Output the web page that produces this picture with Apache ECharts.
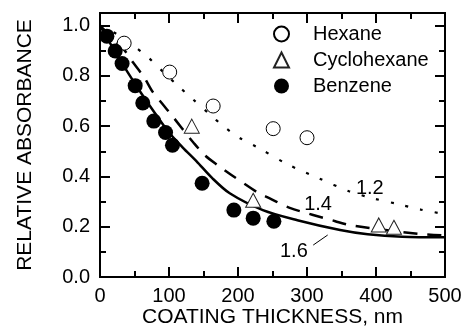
<!DOCTYPE html>
<html>
<head>
<meta charset="utf-8">
<script src="https://cdn.jsdelivr.net/npm/echarts@6/dist/echarts.min.js"></script>
<style>
html, body { margin: 0; padding: 0; background: #fff; }
#chart { width: 463px; height: 327px; }
</style>
</head>
<body>
<div id="chart"></div>
<script>
// measured points [thickness nm, relative absorbance]
const hexane = [[35, 0.93], [101, 0.815], [164, 0.68], [251, 0.59], [300, 0.554]];
const cyclohexane = [[133, 0.60], [222, 0.305], [404, 0.207], [426, 0.198]];
const benzene = [[10, 0.958], [22, 0.899], [32, 0.849], [51, 0.761], [62, 0.692], [78, 0.62],
    [95, 0.575], [105, 0.524], [148, 0.373], [194, 0.266], [222, 0.234], [252, 0.222]];

// model curves
const curve12 = [[0, 1.0], [25, 0.965], [46, 0.925], [70, 0.873], [91, 0.817], [114, 0.758],
    [135, 0.706], [159, 0.647], [181, 0.595], [203, 0.552], [228, 0.516], [272, 0.448],
    [317, 0.393], [361, 0.341], [397, 0.312], [432, 0.29], [465, 0.268], [500, 0.25]];
const curve14 = [[0, 1.0], [18, 0.95], [36, 0.90], [48, 0.853], [64, 0.794], [75, 0.742],
    [90, 0.69], [104, 0.643], [119, 0.591], [135, 0.536], [152, 0.484], [171, 0.444],
    [191, 0.405], [228, 0.337], [246, 0.313], [274, 0.276], [341, 0.222], [359, 0.208],
    [388, 0.196], [464, 0.171], [500, 0.165]];
const curve16 = [[0, 1.0], [20, 0.905], [40, 0.815], [60, 0.73], [80, 0.65], [100, 0.575],
    [120, 0.515], [140, 0.46], [162, 0.395], [188, 0.333], [236, 0.266], [286, 0.226],
    [348, 0.187], [388, 0.17], [438, 0.16], [500, 0.158]];

// curve labels and the little leader for 1.6
const curveLabels = [['1.2', 391, 0.353], ['1.4', 316, 0.29], ['1.6', 281, 0.103]];
const leader16 = [[309, 0.127], [330, 0.167]];

const xTicks = [0, 500, 100];
const yTicks = [0, 1.05, 0.2];

const FONT = "'Liberation Sans', Arial, sans-serif";
const chart = echarts.init(document.getElementById('chart'));

function xAx(pos, withLabels) {
    return {
        type: 'value', position: pos, min: xTicks[0], max: xTicks[1], interval: xTicks[2],
        axisLine: { show: true, onZero: false, lineStyle: { color: '#000', width: 2 } },
        axisTick: { show: true, inside: true, length: 10, lineStyle: { color: '#000', width: 2 } },
        minorTick: { show: true, splitNumber: 2, length: 6, lineStyle: { color: '#000', width: 2 } },
        axisLabel: { show: withLabels, color: '#000', fontSize: 20, fontFamily: FONT, margin: 9 },
        splitLine: { show: false },
        name: withLabels ? 'COATING THICKNESS, nm' : '',
        nameLocation: 'middle', nameGap: 30, nameMoveOverlap: false,
        nameTextStyle: { color: '#000', fontSize: 21, fontFamily: FONT }
    };
}
function yAx(pos, step, len, withLabels) {
    return {
        type: 'value', position: pos, min: yTicks[0], max: yTicks[1], interval: step,
        axisLine: { show: true, onZero: false, lineStyle: { color: '#000', width: 2 } },
        axisTick: { show: true, inside: true, length: len, lineStyle: { color: '#000', width: 2 } },
        axisLabel: {
            show: withLabels, color: '#000', fontSize: 20, fontFamily: FONT, margin: 10,
            showMaxLabel: false, formatter: v => v.toFixed(1)
        },
        splitLine: { show: false },
        name: withLabels ? 'RELATIVE ABSORBANCE' : '',
        nameLocation: 'middle', nameGap: 64, nameRotate: 90, nameMoveOverlap: false,
        nameTextStyle: { color: '#000', fontSize: 21, fontFamily: FONT }
    };
}

function curve(name, data, type, width) {
    return {
        name: name, type: 'line', data: data, smooth: 0.3, showSymbol: false, symbol: 'none',
        lineStyle: { color: '#000', width: width, type: type }, z: 2, silent: true
    };
}

const labelPoints = curveLabels.map(d => ({
    coord: [d[1], d[2]], symbolSize: 0,
    label: { show: true, formatter: d[0], position: 'inside', color: '#000', fontSize: 20, fontFamily: FONT }
}));

const c16 = curve('c16', curve16, 'solid', 2.5);
c16.markPoint = { symbol: 'circle', symbolSize: 0, data: labelPoints, silent: true };
c16.markLine = {
    symbol: 'none', silent: true, label: { show: false },
    lineStyle: { color: '#000', width: 1, type: 'solid' },
    data: [[{ coord: leader16[0] }, { coord: leader16[1] }]]
};

chart.setOption({
    animation: false,
    grid: { left: 100, right: 18, top: 13, bottom: 50, outerBoundsMode: 'none' },
    xAxis: [xAx('bottom', true), xAx('top', false)],
    yAxis: [yAx('left', 0.2, 10, true), yAx('left', 0.1, 6, false),
            yAx('right', 0.2, 10, false), yAx('right', 0.1, 6, false)],
    legend: {
        orient: 'vertical', left: 268, top: 19, itemWidth: 15, itemHeight: 15, itemGap: 6,
        data: ['Hexane', 'Cyclohexane', 'Benzene'],
        textStyle: { color: '#000', fontSize: 20, fontFamily: FONT, lineHeight: 20, padding: [0, 0, 0, 19] }
    },
    series: [
        curve('c12', curve12, [3, 12], 2.2),
        curve('c14', curve14, [14, 10], 2.5),
        c16,
        {
            name: 'Hexane', type: 'scatter', data: hexane, symbol: 'circle', symbolSize: 14, z: 5,
            itemStyle: { color: '#fff', borderColor: '#000', borderWidth: 1, opacity: 1 }
        },
        {
            name: 'Cyclohexane', type: 'scatter', data: cyclohexane, symbol: 'triangle', symbolSize: [15, 14], z: 5,
            itemStyle: { color: '#fff', borderColor: '#222', borderWidth: 1, opacity: 1 }
        },
        {
            name: 'Benzene', type: 'scatter', data: benzene, symbol: 'circle', symbolSize: 15, z: 5,
            itemStyle: { color: '#000', borderColor: '#000', borderWidth: 0, opacity: 1 }
        }
    ]
});
</script>
</body>
</html>
